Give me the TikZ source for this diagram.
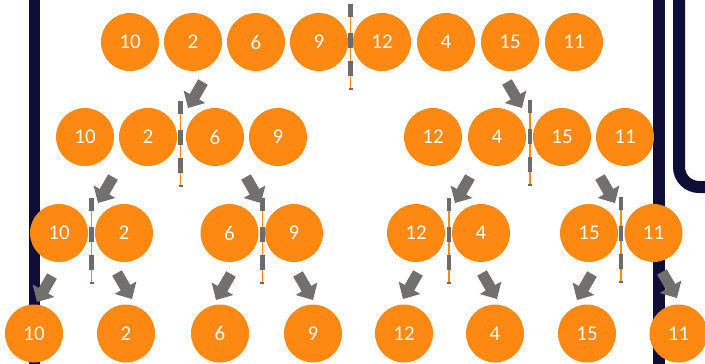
\documentclass[tikz,border=0pt]{standalone}
\usepackage{fontspec}
\setmainfont{Carlito}
\definecolor{ballorange}{RGB}{253,136,18}
\definecolor{arrgray}{RGB}{114,111,111}
\definecolor{dashgray}{RGB}{108,108,108}
\definecolor{navyline}{RGB}{14,14,54}
\newcommand\splitbar[2]{%
  \draw[ballorange, line width=1.5pt] (#1,#2) -- (#1,#2+85);
  \foreach \a/\b in {0/13,29/44,57/72} \draw[dashgray, line width=4.5pt] (#1,#2+\a) -- (#1,#2+\b);
  \draw[dashgray, line width=1.5pt] (#1-2,#2+85) -- (#1+2,#2+85);}
\newcommand\blockarr[3]{%
  \fill[arrgray, shift={(#1,#2)}, rotate=#3] (0,0) -- (-13,12.5) -- (-13,5.5) -- (-30,5.5) -- (-30,-5.5) -- (-13,-5.5) -- (-13,-12.5) -- cycle;}
\begin{document}
\begin{tikzpicture}[x=1pt,y=-1pt,
  ball/.style={circle, fill=ballorange, minimum size=58pt, inner sep=0pt, text=white, font=\fontsize{21}{21}\selectfont}]
\useasboundingbox (0,0) rectangle (705,364);
% frame lines
\draw[navyline, line width=11pt] (34.5,-5) -- (34.5,370);
\draw[navyline, line width=12pt] (659,-5) -- (659,370);
\draw[navyline, line width=12pt, rounded corners=20pt] (679,-5) -- (679,187) -- (715,187);
% row 1
\node[ball] (a1) at (130,42) {10};
\node[ball] (a2) at (193,42) {2};
\node[ball] (a3) at (256,42) {6};
\node[ball] (a4) at (319,42) {9};
\node[ball] (a5) at (382,42) {12};
\node[ball] (a6) at (446,42) {4};
\node[ball] (a7) at (510,42) {15};
\node[ball] (a8) at (574,42) {11};
\splitbar{350.7}{4}
% row 2
\node[ball] (b1) at (85,137) {10};
\node[ball] (b2) at (148,137) {2};
\node[ball] (b3) at (215,137) {6};
\node[ball] (b4) at (278,137) {9};
\node[ball] (b5) at (433,137) {12};
\node[ball] (b6) at (497,137) {4};
\node[ball] (b7) at (562,137) {15};
\node[ball] (b8) at (625,137) {11};
\splitbar{180.7}{101}
\splitbar{530}{100}
% row 3
\node[ball] (c1) at (59,233) {10};
\node[ball] (c2) at (124,233) {2};
\node[ball] (c3) at (229.5,233) {6};
\node[ball] (c4) at (294,233) {9};
\node[ball] (c5) at (416,233) {12};
\node[ball] (c6) at (481,233) {4};
\node[ball] (c7) at (589,233) {15};
\node[ball] (c8) at (653.5,233) {11};
\splitbar{91.7}{198}
\splitbar{262.3}{198}
\splitbar{449}{198}
\splitbar{621}{197}
% row 4
\node[ball] (d1) at (34,333.5) {10};
\node[ball] (d2) at (126,333.5) {2};
\node[ball] (d3) at (220,333.5) {6};
\node[ball] (d4) at (313,333.5) {9};
\node[ball] (d5) at (404,333.5) {12};
\node[ball] (d6) at (495,333.5) {4};
\node[ball] (d7) at (587,333.5) {15};
\node[ball] (d8) at (678.5,333.5) {11};
% arrows
\blockarr{188}{108}{-120}
\blockarr{522}{108}{-60}
\blockarr{98}{203}{-120}
\blockarr{261}{203}{-60}
\blockarr{455}{203}{-120}
\blockarr{615}{203}{-60}
\blockarr{37}{302}{-120}
\blockarr{132}{299}{-60}
\blockarr{216}{300}{-120}
\blockarr{313}{300}{-60}
\blockarr{403}{299}{-120}
\blockarr{497}{299}{-60}
\blockarr{577}{300}{-120}
\blockarr{677}{298}{-60}
\end{tikzpicture}
\end{document}
